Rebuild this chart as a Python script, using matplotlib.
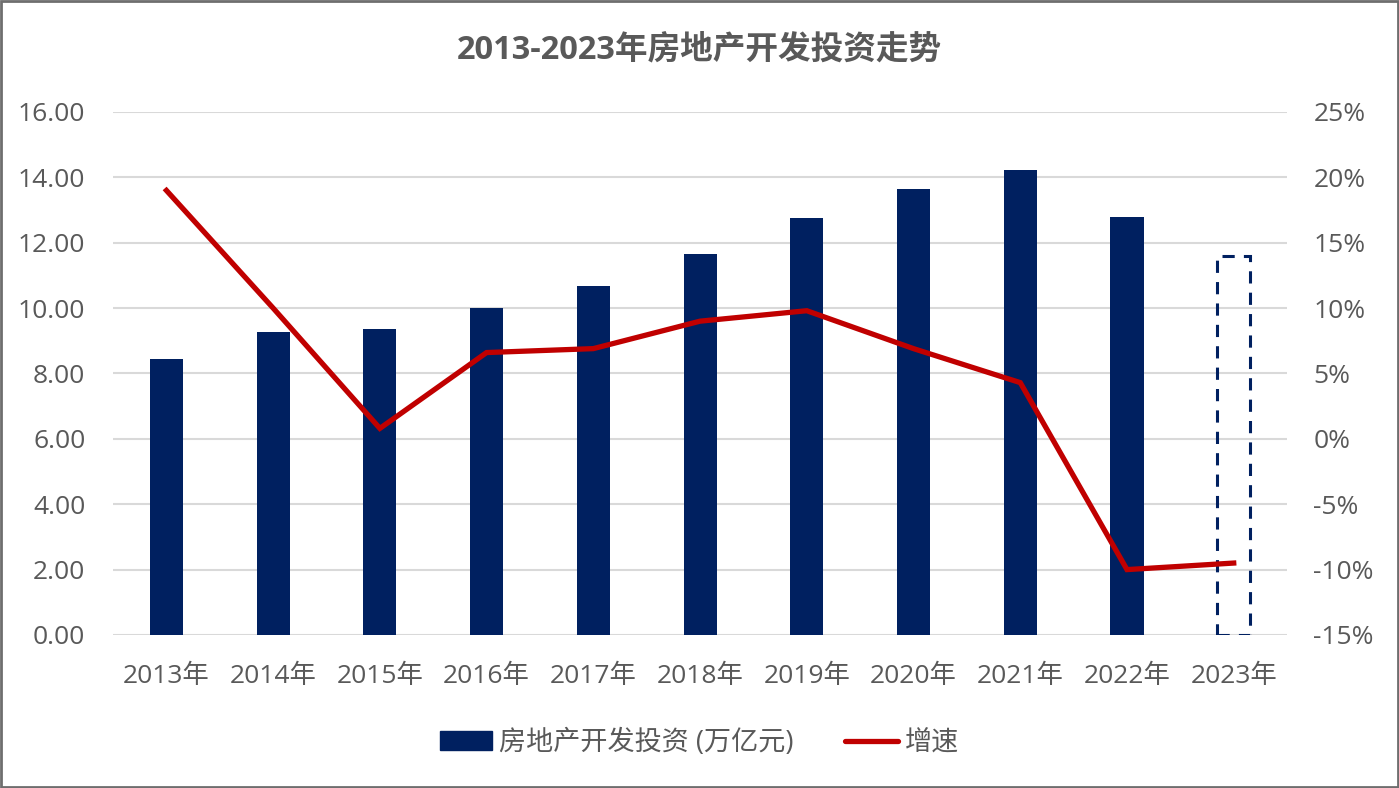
import matplotlib
matplotlib.use('Agg')
import matplotlib.pyplot as plt
from matplotlib.patches import Rectangle, Patch
from matplotlib.lines import Line2D

plt.rcParams['font.family'] = ['Open Sans', 'Noto Sans CJK SC', 'DejaVu Sans']

# 数据
years = ['2013年', '2014年', '2015年', '2016年', '2017年', '2018年',
         '2019年', '2020年', '2021年', '2022年', '2023年']
investment = [8.43, 9.27, 9.35, 9.99, 10.68, 11.65, 12.76, 13.64, 14.22, 12.8, 11.59]
growth = [19.0, 10.0, 0.8, 6.6, 6.9, 9.0, 9.8, 6.9, 4.3, -10.0, -9.5]

navy = '#002060'
red = '#c00000'
gray_txt = '#595959'

fig = plt.figure(figsize=(13.99, 7.88), dpi=100)
ax = fig.add_axes([0.0808, 0.1942, 0.8392, 0.6637])
ax2 = ax.twinx()

x = list(range(len(years)))
w = 0.31
ax.bar(x[:-1], investment[:-1], width=w, color=navy, zorder=2)
# 2023年为虚线框
ax.bar(x[-1], investment[-1], width=w, facecolor='none', edgecolor=navy,
       linestyle=(0, (4, 3)), linewidth=2.2, zorder=2)

ax2.plot(x, [g / 100 for g in growth], color=red, linewidth=3.8,
         solid_joinstyle='miter', zorder=3)

ax.set_xlim(-0.5, len(years) - 0.5)
ax.set_ylim(0, 16)
ax.set_yticks(range(0, 17, 2))
ax.set_yticklabels([f'{v:.2f}' for v in range(0, 17, 2)])
ax.grid(axis='y', color='#d9d9d9', linewidth=1.5, zorder=0)
ax.set_axisbelow(True)
ax.set_xticks(x)
ax.set_xticklabels(years)

ax2.set_ylim(-0.15, 0.25)
pct = [-15, -10, -5, 0, 5, 10, 15, 20, 25]
ax2.set_yticks([p / 100 for p in pct])
ax2.set_yticklabels([f'{p}%' for p in pct])

for a in (ax, ax2):
    for s in a.spines.values():
        s.set_visible(False)
    a.tick_params(length=0, labelsize=19, colors=gray_txt)
ax.tick_params(axis='x', pad=21)
ax.tick_params(axis='y', pad=20)
ax2.tick_params(axis='y', pad=19)

fig.text(0.5, 0.936, '2013-2023年房地产开发投资走势', ha='center', va='center',
         fontsize=23.5, fontweight='bold', color=gray_txt)

handles = [Patch(facecolor=navy, edgecolor=navy),
           Line2D([0], [0], color=red, linewidth=3.8, solid_capstyle='round')]
fig.legend(handles, ['房地产开发投资 (万亿元)', '增速'], loc='center',
           bbox_to_anchor=(0.5, 0.057), ncol=2, frameon=False, fontsize=19.5,
           labelcolor=gray_txt, handlelength=1.95, handletextpad=0.26,
           columnspacing=1.9)

fig.patches.append(Rectangle((0.001, 0.001), 0.998, 0.998, transform=fig.transFigure,
                             fill=False, edgecolor='#6e6e6e', linewidth=2))

fig.savefig('out.png', dpi=100)
